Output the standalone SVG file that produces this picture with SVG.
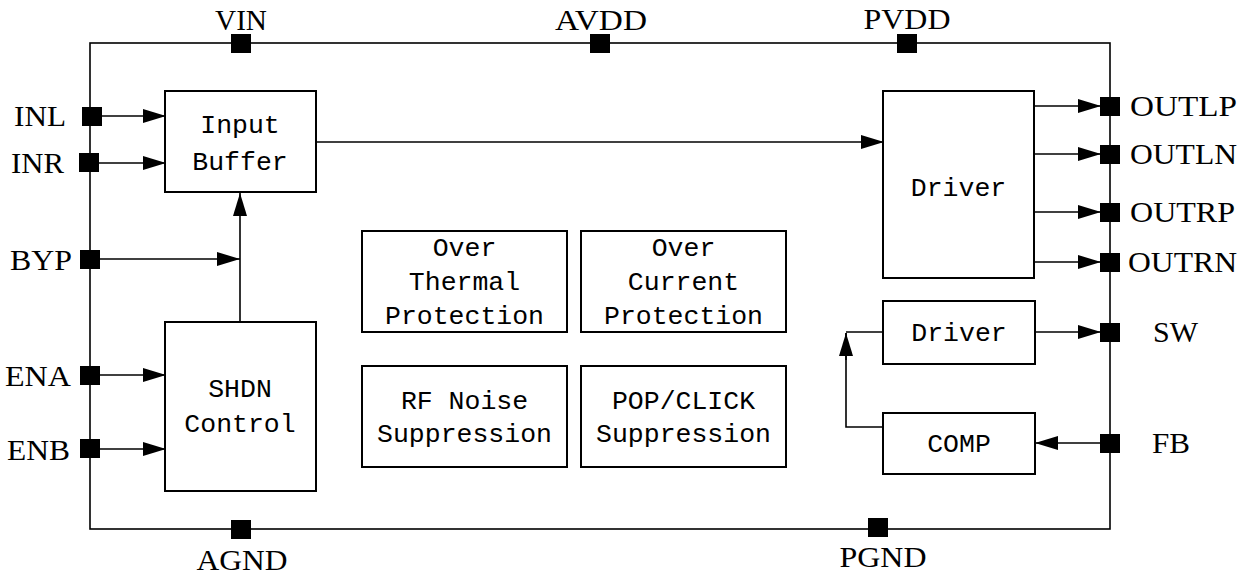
<svg xmlns="http://www.w3.org/2000/svg" width="1250" height="579" viewBox="0 0 1250 579">
<style>
.box{fill:#fff;stroke:#000;stroke-width:2}
.frame{fill:none;stroke:#000;stroke-width:1.6}
.wire{fill:none;stroke:#000;stroke-width:1.6}
.pin{fill:#000}
.bt{font-family:"Liberation Mono","DejaVu Sans Mono",monospace;font-size:26.5px;fill:#000;text-anchor:middle}
.pl{font-family:"Liberation Serif","Times New Roman",serif;font-size:29px;fill:#000}
.mid{text-anchor:middle}
.end{text-anchor:end}
</style>
<defs>
<marker id="ah" markerUnits="userSpaceOnUse" markerWidth="24" markerHeight="16" refX="23" refY="7" orient="auto">
<path d="M0,0 L23,7 L0,14 z" fill="#000"/>
</marker>
</defs>
<rect width="1250" height="579" fill="#fff"/>
<rect id="frame" class="frame" x="90" y="43" width="1020" height="486"/>

<g id="connectors">
<line class="wire" x1="92" y1="116" x2="166" y2="116" marker-end="url(#ah)"/>
<line class="wire" x1="90" y1="163" x2="166" y2="163" marker-end="url(#ah)"/>
<line class="wire" x1="90" y1="259" x2="240" y2="259" marker-end="url(#ah)"/>
<line class="wire" x1="240" y1="322" x2="240" y2="193" marker-end="url(#ah)"/>
<line class="wire" x1="90" y1="375" x2="166" y2="375" marker-end="url(#ah)"/>
<line class="wire" x1="90" y1="449" x2="166" y2="449" marker-end="url(#ah)"/>
<line class="wire" x1="316" y1="142" x2="884" y2="142" marker-end="url(#ah)"/>
<line class="wire" x1="1034" y1="106" x2="1101" y2="106" marker-end="url(#ah)"/>
<line class="wire" x1="1034" y1="154" x2="1101" y2="154" marker-end="url(#ah)"/>
<line class="wire" x1="1034" y1="212" x2="1101" y2="212" marker-end="url(#ah)"/>
<line class="wire" x1="1034" y1="262" x2="1101" y2="262" marker-end="url(#ah)"/>
<line class="wire" x1="1035" y1="332" x2="1101" y2="332" marker-end="url(#ah)"/>
<line class="wire" x1="1110" y1="443" x2="1035" y2="443" marker-end="url(#ah)"/>
<polyline class="wire" points="883,427 846,427 846,333"/>
<line class="wire" x1="846" y1="360" x2="846" y2="333" marker-end="url(#ah)"/>
<line class="wire" x1="846" y1="332" x2="883" y2="332"/>
</g>

<g id="input-buffer"><rect class="box" x="165" y="91" width="151" height="101"/>
<text class="bt" x="240" y="133">Input</text><text class="bt" x="240" y="170">Buffer</text></g>
<g id="shdn-control"><rect class="box" x="165" y="322" width="151" height="169"/>
<text class="bt" x="240" y="397">SHDN</text><text class="bt" x="240" y="432">Control</text></g>
<g id="otp"><rect class="box" x="362" y="231" width="205" height="101"/>
<text class="bt" x="464.5" y="256">Over</text><text class="bt" x="464.5" y="290">Thermal</text><text class="bt" x="464.5" y="324">Protection</text></g>
<g id="ocp"><rect class="box" x="581" y="231" width="205" height="101"/>
<text class="bt" x="683.5" y="256">Over</text><text class="bt" x="683.5" y="290">Current</text><text class="bt" x="683.5" y="324">Protection</text></g>
<g id="rf-noise"><rect class="box" x="362" y="366" width="205" height="101"/>
<text class="bt" x="464.5" y="409">RF Noise</text><text class="bt" x="464.5" y="442">Suppression</text></g>
<g id="pop-click"><rect class="box" x="581" y="366" width="205" height="101"/>
<text class="bt" x="683.5" y="409">POP/CLICK</text><text class="bt" x="683.5" y="442">Suppression</text></g>
<g id="driver-main"><rect class="box" x="883" y="91" width="151" height="187"/>
<text class="bt" x="958.5" y="196">Driver</text></g>
<g id="driver-sw"><rect class="box" x="883" y="301" width="152" height="63"/>
<text class="bt" x="959" y="341">Driver</text></g>
<g id="comp"><rect class="box" x="883" y="413" width="152" height="61"/>
<text class="bt" x="959" y="452">COMP</text></g>

<g id="pin-vin"><rect class="pin" x="231" y="34" width="20" height="19"/><text class="pl mid" x="241" y="30" textLength="52" lengthAdjust="spacingAndGlyphs">VIN</text></g>
<g id="pin-avdd"><rect class="pin" x="590" y="34" width="20" height="19"/><text class="pl mid" x="601" y="30" textLength="92" lengthAdjust="spacingAndGlyphs">AVDD</text></g>
<g id="pin-pvdd"><rect class="pin" x="897" y="34" width="20" height="19"/><text class="pl mid" x="907" y="29" textLength="87" lengthAdjust="spacingAndGlyphs">PVDD</text></g>
<g id="pin-inl"><rect class="pin" x="82" y="107" width="20" height="19"/><text class="pl end" x="66" y="126" textLength="52" lengthAdjust="spacingAndGlyphs">INL</text></g>
<g id="pin-inr"><rect class="pin" x="79" y="153" width="20" height="19"/><text class="pl end" x="64" y="173" textLength="53" lengthAdjust="spacingAndGlyphs">INR</text></g>
<g id="pin-byp"><rect class="pin" x="80" y="250" width="20" height="19"/><text class="pl end" x="72" y="270" textLength="62" lengthAdjust="spacingAndGlyphs">BYP</text></g>
<g id="pin-ena"><rect class="pin" x="80" y="366" width="20" height="19"/><text class="pl end" x="71" y="386" textLength="66" lengthAdjust="spacingAndGlyphs">ENA</text></g>
<g id="pin-enb"><rect class="pin" x="80" y="439" width="20" height="19"/><text class="pl end" x="70" y="460" textLength="63" lengthAdjust="spacingAndGlyphs">ENB</text></g>
<g id="pin-agnd"><rect class="pin" x="231" y="520" width="20" height="19"/><text class="pl mid" x="242" y="570" textLength="91" lengthAdjust="spacingAndGlyphs">AGND</text></g>
<g id="pin-pgnd"><rect class="pin" x="868" y="518" width="20" height="19"/><text class="pl mid" x="883" y="567" textLength="87" lengthAdjust="spacingAndGlyphs">PGND</text></g>
<g id="pin-outlp"><rect class="pin" x="1100" y="97" width="20" height="19"/><text class="pl" x="1130" y="116" textLength="107" lengthAdjust="spacingAndGlyphs">OUTLP</text></g>
<g id="pin-outln"><rect class="pin" x="1100" y="145" width="20" height="19"/><text class="pl" x="1130" y="164" textLength="107" lengthAdjust="spacingAndGlyphs">OUTLN</text></g>
<g id="pin-outrp"><rect class="pin" x="1100" y="203" width="20" height="19"/><text class="pl" x="1130" y="222" textLength="105" lengthAdjust="spacingAndGlyphs">OUTRP</text></g>
<g id="pin-outrn"><rect class="pin" x="1100" y="253" width="20" height="19"/><text class="pl" x="1128" y="272" textLength="109" lengthAdjust="spacingAndGlyphs">OUTRN</text></g>
<g id="pin-sw"><rect class="pin" x="1100" y="323" width="20" height="19"/><text class="pl" x="1153" y="342" textLength="45" lengthAdjust="spacingAndGlyphs">SW</text></g>
<g id="pin-fb"><rect class="pin" x="1100" y="434" width="20" height="19"/><text class="pl" x="1152" y="453" textLength="38" lengthAdjust="spacingAndGlyphs">FB</text></g>
</svg>
